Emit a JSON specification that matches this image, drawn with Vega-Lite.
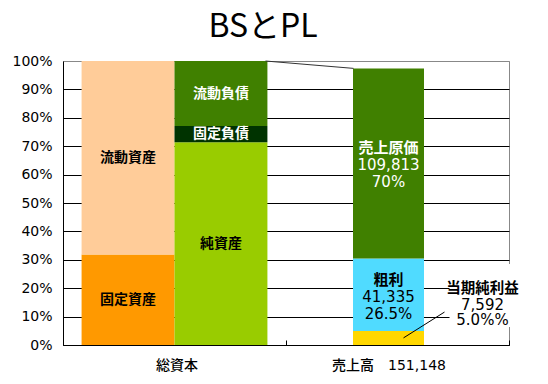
{
  "$schema": "https://vega.github.io/schema/vega-lite/v6.json",
  "width": 446,
  "height": 284,
  "autosize": {"type": "none"},
  "padding": {"left": 63, "top": 61, "right": 39, "bottom": 39},
  "background": "white",
  "title": {"text": "BSとPL", "font": "Noto Sans CJK JP", "fontSize": 32, "fontWeight": "normal", "color": "black", "anchor": "middle", "dx": -23, "offset": 10},
  "config": {
    "view": {"stroke": "#888888", "strokeWidth": 1},
    "font": "Noto Sans CJK JP",
    "axis": {"domainColor": "black", "labelColor": "black"}
  },
  "datasets": {
    "bs": [
      {"区分": "総資本", "側": "資産", "項目": "固定資産", "値": 31.9, "順": 1},
      {"区分": "総資本", "側": "資産", "項目": "流動資産", "値": 68.1, "順": 2},
      {"区分": "総資本", "側": "負債", "項目": "純資産", "値": 71.4, "順": 1},
      {"区分": "総資本", "側": "負債", "項目": "固定負債", "値": 5.7, "順": 2},
      {"区分": "総資本", "側": "負債", "項目": "流動負債", "値": 22.9, "順": 3}
    ],
    "pl": [
      {"区分": "売上高　151,148", "項目": "当期純利益", "値": 4.9, "順": 1, "数値": ["7,592", "5.0%%"]},
      {"区分": "売上高　151,148", "項目": "粗利", "値": 25.6, "順": 2, "数値": ["41,335", "26.5%"]},
      {"区分": "売上高　151,148", "項目": "売上原価", "値": 66.9, "順": 3, "数値": ["109,813", "70%"]}
    ]
  },
  "layer": [
    {
      "data": {"name": "bs"},
      "transform": [{"stack": "値", "groupby": ["区分", "側"], "sort": [{"field": "順"}], "as": ["下", "上"]}],
      "mark": {"type": "bar"},
      "encoding": {
        "x": {
          "field": "区分", "type": "nominal", "title": null,
          "scale": {"domain": ["総資本", "売上高　151,148"], "paddingInner": 0, "paddingOuter": 0},
          "axis": {
            "labelAngle": 0, "labelFont": "DejaVu Sans, Noto Sans CJK JP", "labelFontSize": 14, "labelFontWeight": 500,
            "labelPadding": 18, "tickBand": "extent", "tickSize": -5, "tickColor": "black", "zindex": 1,
            "labelOffset": {"condition": {"test": "datum.value === '売上高　151,148'", "value": -9}, "value": 2}
          }
        },
        "xOffset": {"field": "側", "type": "nominal", "scale": {"domain": ["資産", "負債"], "paddingInner": 0, "paddingOuter": 0.2}},
        "y": {
          "field": "下", "type": "quantitative", "title": null,
          "scale": {"domain": [0, 100], "nice": false},
          "axis": {
            "values": [0, 10, 20, 30, 40, 50, 60, 70, 80, 90, 100],
            "tickCount": 11,
            "labelExpr": "datum.value + '%'",
            "labelFont": "DejaVu Sans", "labelFontSize": 14, "ticks": false, "labelPadding": 11,
            "grid": true, "gridOpacity": 1, "labelOverlap": false,
            "gridColor": {"condition": {"test": "datum.value === 100", "value": "#888888"}, "value": "black"}
          }
        },
        "y2": {"field": "上"},
        "color": {
          "field": "項目", "type": "nominal", "legend": null,
          "scale": {
            "domain": ["固定資産", "流動資産", "純資産", "固定負債", "流動負債", "当期純利益", "粗利", "売上原価"],
            "range": ["#FF9900", "#FFCC99", "#99CC00", "#003300", "#408000", "#FFD700", "#50DBFF", "#408000"]
          }
        }
      }
    },
    {
      "data": {"name": "bs"},
      "transform": [
        {"stack": "値", "groupby": ["区分", "側"], "sort": [{"field": "順"}], "as": ["下", "上"]},
        {"calculate": "(datum['下'] + datum['上']) / 2", "as": "中"}
      ],
      "mark": {"type": "text", "fontSize": 14, "fontWeight": "bold", "font": "Noto Sans CJK JP"},
      "encoding": {
        "x": {"field": "区分", "type": "nominal", "title": null},
        "xOffset": {"field": "側", "type": "nominal"},
        "y": {"field": "中", "type": "quantitative", "title": null},
        "text": {"field": "項目"},
        "color": {"condition": {"test": "indexof(['流動負債','固定負債','売上原価'], datum['項目']) >= 0", "value": "white"}, "value": "black"}
      }
    },
    {
      "data": {"name": "pl"},
      "transform": [{"stack": "値", "groupby": ["区分"], "sort": [{"field": "順"}], "as": ["下", "上"]}],
      "mark": {"type": "bar", "width": 71, "xOffset": -9},
      "encoding": {
        "x": {"field": "区分", "type": "nominal", "title": null},
        "y": {"field": "下", "type": "quantitative", "title": null},
        "y2": {"field": "上"},
        "color": {"field": "項目", "type": "nominal", "legend": null}
      }
    },
    {
      "data": {"name": "pl"},
      "transform": [
        {"stack": "値", "groupby": ["区分"], "sort": [{"field": "順"}], "as": ["下", "上"]},
        {"filter": "datum['項目'] !== '当期純利益'"},
        {"calculate": "(datum['下'] + datum['上']) / 2", "as": "中"}
      ],
      "mark": {"type": "text", "fontSize": 15, "fontWeight": "bold", "font": "Noto Sans CJK JP", "xOffset": -9, "dy": -15},
      "encoding": {
        "x": {"field": "区分", "type": "nominal", "title": null},
        "y": {"field": "中", "type": "quantitative", "title": null},
        "text": {"field": "項目"},
        "color": {"condition": {"test": "datum['項目'] === '売上原価'", "value": "white"}, "value": "black"}
      }
    },
    {
      "data": {"name": "pl"},
      "transform": [
        {"stack": "値", "groupby": ["区分"], "sort": [{"field": "順"}], "as": ["下", "上"]},
        {"filter": "datum['項目'] !== '当期純利益'"},
        {"calculate": "(datum['下'] + datum['上']) / 2", "as": "中"}
      ],
      "mark": {"type": "text", "fontSize": 15, "font": "DejaVu Sans", "lineHeight": 17, "xOffset": -9, "dy": 2},
      "encoding": {
        "x": {"field": "区分", "type": "nominal", "title": null},
        "y": {"field": "中", "type": "quantitative", "title": null},
        "text": {"field": "数値"},
        "color": {"condition": {"test": "datum['項目'] === '売上原価'", "value": "white"}, "value": "black"}
      }
    },
    {
      "data": {"values": [{}]},
      "mark": {"type": "bar", "width": 66, "xOffset": 85, "color": "white"},
      "encoding": {
        "x": {"datum": "売上高　151,148", "type": "nominal"},
        "y": {"datum": 6.3, "type": "quantitative"},
        "y2": {"datum": 28.5}
      }
    },
    {
      "data": {"name": "pl"},
      "transform": [{"filter": "datum['項目'] === '当期純利益'"}],
      "mark": {"type": "text", "fontSize": 14.5, "fontWeight": "bold", "font": "Noto Sans CJK JP", "xOffset": 85, "dy": -16, "color": "black"},
      "encoding": {
        "x": {"field": "区分", "type": "nominal", "title": null},
        "y": {"datum": 14.1, "type": "quantitative"},
        "text": {"field": "項目"}
      }
    },
    {
      "data": {"name": "pl"},
      "transform": [{"filter": "datum['項目'] === '当期純利益'"}],
      "mark": {"type": "text", "fontSize": 15, "font": "DejaVu Sans", "lineHeight": 15.5, "xOffset": 85, "dy": 0, "color": "black"},
      "encoding": {
        "x": {"field": "区分", "type": "nominal", "title": null},
        "y": {"datum": 14.1, "type": "quantitative"},
        "text": {"field": "数値"}
      }
    },
    {
      "data": {"values": [{}]},
      "mark": {"type": "rule", "color": "black", "strokeWidth": 1, "xOffset": 6, "x2Offset": 47},
      "encoding": {
        "x": {"datum": "売上高　151,148", "type": "nominal"},
        "x2": {"datum": "売上高　151,148"},
        "y": {"datum": 2.5, "type": "quantitative"},
        "y2": {"datum": 11.6}
      }
    },
    {
      "data": {"values": [{}]},
      "mark": {"type": "rule", "color": "#333333", "strokeWidth": 1, "xOffset": 91, "x2Offset": -44},
      "encoding": {
        "x": {"datum": "総資本", "type": "nominal"},
        "x2": {"datum": "売上高　151,148"},
        "y": {"datum": 100, "type": "quantitative"},
        "y2": {"datum": 97.4}
      }
    }
  ]
}
